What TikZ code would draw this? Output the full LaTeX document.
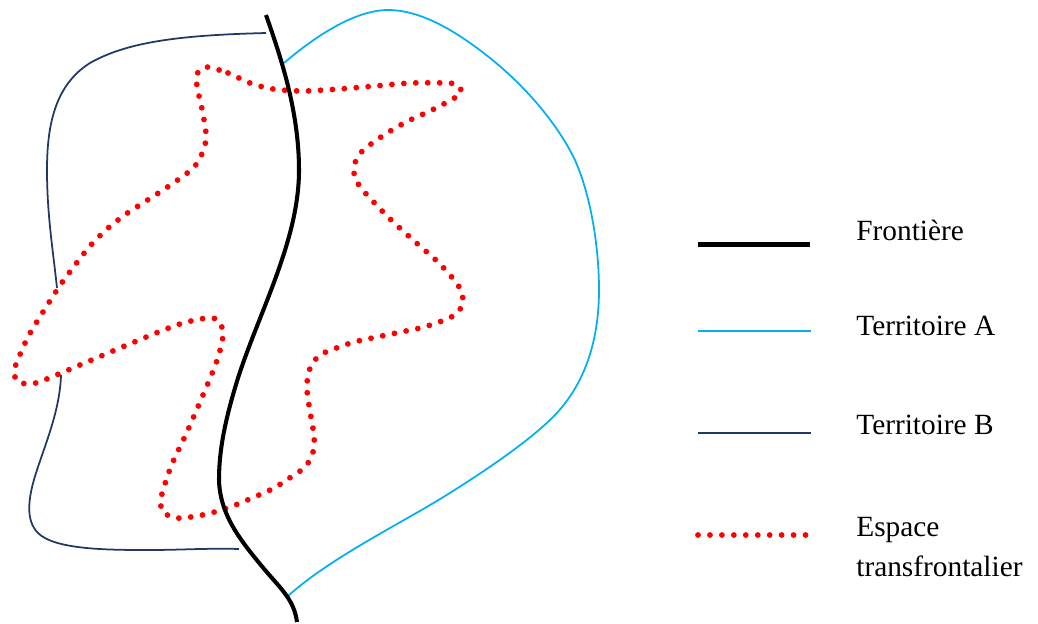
\documentclass[tikz,border=0pt]{standalone}
\usepackage{fontspec}
\setmainfont{Liberation Serif}
\usepackage{xcolor}
\usetikzlibrary{positioning,calc}
\definecolor{bleuA}{HTML}{00B0F0}
\definecolor{bleuB}{HTML}{1F3864}
\tikzset{
    frontiere/.style={line width=2.3pt, black},
    territoireA/.style={line width=1pt, bleuA},
    territoireB/.style={line width=1pt, bleuB},
    espace/.style={line width=3.3pt, red, line cap=round, dash pattern=on 0pt off 6.8pt},
    legende/.style={anchor=base west, inner sep=0pt, align=left, font=\fontsize{16.7}{22.7}\selectfont}
}
\begin{document}
\begin{tikzpicture}[x=0.02cm, y=-0.02cm]
    \useasboundingbox (0,0) rectangle (1038,623);

    % Territoire B
    \draw[territoireB] (266,33) .. controls (190,35) and (130,40) .. (90,63) .. controls (55,85) and (47,125) .. (47,170) .. controls (47,215) and (53,250) .. (57,288);
    \draw[territoireB] (61,375) .. controls (60,410) and (45,445) .. (37,470) .. controls (28,497) and (25,520) .. (38,533) .. controls (55,550) and (110,550) .. (150,550) .. controls (180,550) and (210,548) .. (239,549);

    % Territoire A
    \draw[territoireA] (284,63) .. controls (305,45) and (350,10) .. (388,10) .. controls (420,10) and (455,30) .. (490,58) .. controls (525,86) and (556,122) .. (574,158) .. controls (590,192) and (599,245) .. (599,290) .. controls (599,340) and (585,385) .. (553,417) .. controls (530,440) and (490,468) .. (445,496) .. controls (400,524) and (330,558) .. (288,596);

    % Espace transfrontalier
    \draw[espace] plot[smooth cycle, tension=0.5] coordinates {(206,67) (228,73) (250,83) (273,89) (303,91) (339,89) (375,86) (411,83) (447,83) (458,85) (461,93) (451,100) (430,111) (408,121) (387,133) (367,147) (359,155) (354,166) (355,178) (361,188) (369,197) (386,215) (403,231) (421,247) (439,263) (455,281) (461,291) (463,303) (457,313) (447,319) (424,327) (401,332) (377,337) (354,342) (331,350) (320,355) (312,364) (308,375) (307,387) (308,399) (312,423) (314,435) (314,447) (311,458) (304,468) (294,475) (274,488) (252,498) (230,507) (207,514) (183,518) (172,517) (162,511) (161,499) (164,487) (172,464) (187,432) (206,388) (215,366) (219,354) (222,342) (223,331) (218,320) (207,318) (183,323) (161,331) (127,345) (94,359) (61,373) (39,382) (27,384) (16,380) (15,368) (19,357) (29,335) (48,304) (61,284) (75,265) (90,246) (107,229) (126,214) (146,201) (166,188) (186,174) (195,166) (201,156) (205,145) (206,133) (202,109) (197,86) (197,74)};

    % Frontiere
    \draw[frontiere] (266,15) .. controls (280,55) and (299,110) .. (299,170) .. controls (299,240) and (260,310) .. (238,378) .. controls (225,420) and (219,450) .. (219,480) .. controls (220,515) and (240,540) .. (265,570) .. controls (282,590) and (294,600) .. (297,622);

    % Legende
    \coordinate (fg) at (698,244.5);
    \coordinate (fd) at (810,244.5);
    \coordinate (ag) at (698,331);
    \coordinate (ad) at (811,331);
    \coordinate (bg) at (698,433);
    \coordinate (bd) at (811,433);
    \coordinate (eg) at (698,535);
    \coordinate (ed) at (810,535);
    \draw[frontiere] (fg) -- (fd);
    \draw[territoireA] (ag) -- (ad);
    \draw[territoireB] (bg) -- (bd);
    \draw[espace] (eg) -- (ed);
    \node[legende] (lfrontiere) at (856,240) {Frontière};
    \node[legende] (lterritoireA) at (856,335) {Territoire A};
    \node[legende] (lterritoireB) at (856,434) {Territoire B};
    \node[legende] (lespace) at (856,576) {Espace\\transfrontalier};
\end{tikzpicture}
\end{document}
